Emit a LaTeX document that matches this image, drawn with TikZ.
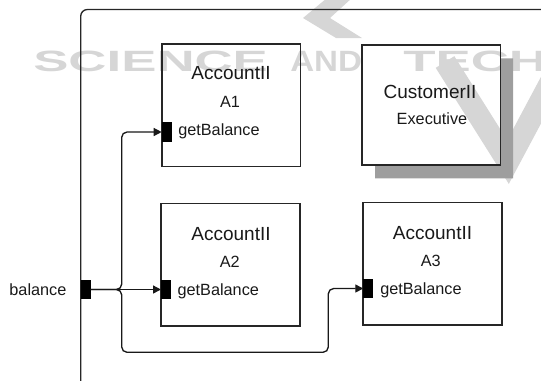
\documentclass[tikz,border=0pt]{standalone}
\usepackage{fontspec}
\setmainfont{Liberation Sans}
\usetikzlibrary{arrows.meta}
\begin{document}
\begin{tikzpicture}[x=0.75pt,y=-0.75pt,
  box/.style={draw=black!85,line width=1.1pt,minimum width=104pt,minimum height=92pt,inner sep=0pt},
  port/.style={fill=black,inner sep=0pt,outer sep=0pt,minimum width=7.5pt,minimum height=14.6pt},
  ttl/.style={font=\fontsize{14.25pt}{16pt}\selectfont,inner sep=0pt,anchor=base,text=black!90},
  txt/.style={font=\fontsize{12.2pt}{14pt}\selectfont,inner sep=0pt,anchor=base,text=black!90},
  conn/.style={line width=1pt,draw=black!90,rounded corners=4pt,-{Triangle[length=6pt,width=6pt]}},
  frame/.style={line width=1pt,draw=black!85,rounded corners=5pt},
  wmfill/.style={fill=black!16},
  wmline/.style={draw=black!16,line width=16.5pt},
  wmtext/.style={font=\fontsize{22pt}{24pt}\bfseries,text=black!16,inner sep=0pt,anchor=base west},
  shade/.style={fill=black!38}]

\useasboundingbox (0,0) rectangle (541,380);
\clip (0,0) rectangle (541,380);

% faint background mark
\fill[wmfill] (327,-2) -- (352,-2) -- (330,18) -- (362,38) -- (336,38) -- (303,18) -- cycle;
\draw[wmline] (445,62) -- (508,162) -- (556,72);
\node[wmtext] (wm1) at (33,71) {\scalebox{1.8}[1]{SCIENCE}};
\node[wmtext] (wm2) at (290,71) {\scalebox{1.13}[1]{AND}};
\node[wmtext] (wm3) at (403,71) {\scalebox{1.8}[1]{TECH}};

% drop shadow of the customer box
\fill[shade] (500.7,58.3) -- (513,58.3) -- (513,178.3) -- (375,178.3) -- (375,165) -- (500.7,165) -- cycle;

% enclosing component frame
\coordinate (fb) at (80.7,400);
\coordinate (ft) at (80.7,9.5);
\coordinate (fr) at (560,9.5);
\draw[frame] (fb) -- (ft) -- (fr);

% parts
\node[box] (a1) at (231.1,105.4) {};
\node[box,minimum height=90pt] (cust) at (431.2,105) {};
\node[box] (a2) at (230.5,264.7) {};
\node[box] (a3) at (432.5,263.7) {};

% ports
\node[port,anchor=west] (a1p) at (161.7,132) {};
\node[port,anchor=west] (a2p) at (161,289.5) {};
\node[port,anchor=west] (a3p) at (363.3,288.5) {};
\node[port,anchor=west] (balp) at (80.7,289.5) {};

% labels
\node[ttl] (a1n) at (231,79.8) {AccountII};
\node[txt] (a1i) at (230,107.5) {A1};
\node[txt,anchor=base west] (a1g) at (178,135.8) {getBalance};

\node[ttl] (cn) at (430,98.5) {CustomerII};
\node[txt] (ci) at (432,124.8) {Executive};

\node[ttl] (a2n) at (231,240.1) {AccountII};
\node[txt] (a2i) at (229.7,267.5) {A2};
\node[txt,anchor=base west] (a2g) at (177.3,295) {getBalance};

\node[ttl] (a3n) at (432.5,239.5) {AccountII};
\node[txt] (a3i) at (430.8,266.8) {A3};
\node[txt,anchor=base west] (a3g) at (380,294) {getBalance};

\node[txt,anchor=base east] (bl) at (66.7,295) {balance};

% delegation connectors
\coordinate (up) at (121.7,132);
\coordinate (dn) at (121.7,352.3);
\coordinate (rise) at (328.3,352.3);
\draw[conn] (balp.east) -- (a2p.west);
\draw[conn] (balp.east) -| (up) -- (a1p.west);
\draw[conn] (balp.east) -| (dn) -- (rise) |- (a3p.west);
\end{tikzpicture}
\end{document}
